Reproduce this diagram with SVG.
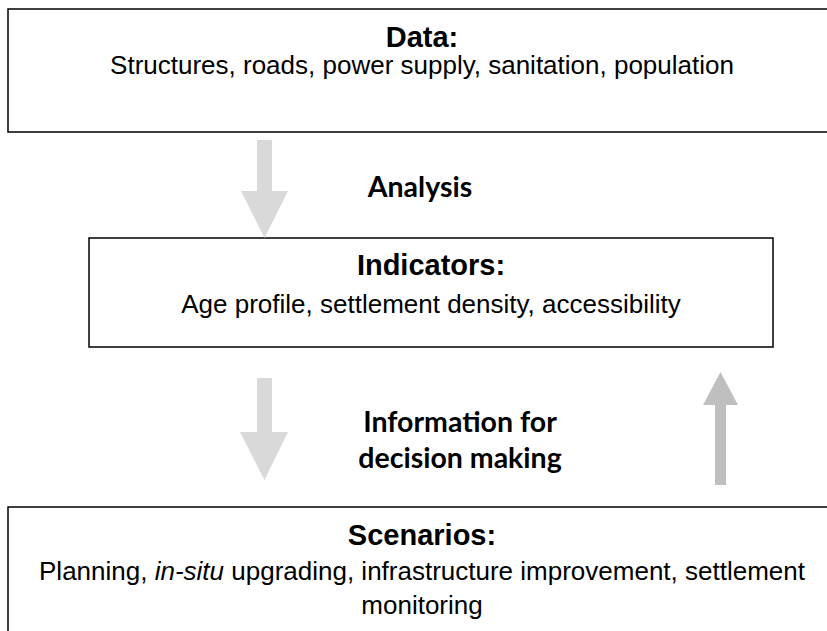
<svg xmlns="http://www.w3.org/2000/svg" width="827" height="631" viewBox="0 0 827 631">
<style>
.box{fill:#fff;stroke:#000;stroke-width:1.5}
.h{font-family:"Liberation Sans",Arial,sans-serif;font-weight:bold;font-size:29px;text-anchor:middle;fill:#000}
.t{font-family:"Liberation Sans",Arial,sans-serif;font-size:26px;text-anchor:middle;fill:#000}
.lbl{font-family:Lato,"Open Sans",sans-serif;font-weight:bold;font-size:28.5px;text-anchor:middle;fill:#000}
.light{fill:#d9d9d9}
.dark{fill:#bfbfbf}
</style>
<rect width="827" height="631" fill="#fff"/>
<g id="data">
<rect class="box" x="8" y="9" width="830" height="123"/>
<text class="h" x="422" y="47">Data:</text>
<text class="t" x="422" y="74" font-size="25">Structures, roads, power supply, sanitation, population</text>
</g>
<g id="indicators">
<rect class="box" x="89" y="238" width="684" height="109"/>
<text class="h" x="431" y="275" font-size="28.5">Indicators:</text>
<text class="t" x="431" y="313" font-size="26.5">Age profile, settlement density, accessibility</text>
</g>
<g id="scenarios">
<rect class="box" x="8" y="507" width="830" height="150"/>
<text class="h" x="422" y="545">Scenarios:</text>
<text class="t" x="422" y="580" font-size="26.6">Planning, <tspan font-style="italic">in-situ</tspan> upgrading, infrastructure improvement, settlement</text>
<text class="t" x="422" y="614" font-size="26.6">monitoring</text>
</g>
<g id="connectors">
<polygon class="light" points="257,140 272,140 272,191 288,191 264.5,238 241,191 257,191"/>
<polygon class="light" points="257,378 272,378 272,432 288,432 264.5,480 240,432 257,432"/>
<polygon class="dark" points="715,485 726,485 726,405 738,405 720.5,372 703,405 715,405"/>
<text class="lbl" x="460" y="432">Information for</text>
<text class="lbl" x="460" y="468">decision making</text>
<text class="lbl" x="420" y="197">Analysis</text>
</g>
</svg>
